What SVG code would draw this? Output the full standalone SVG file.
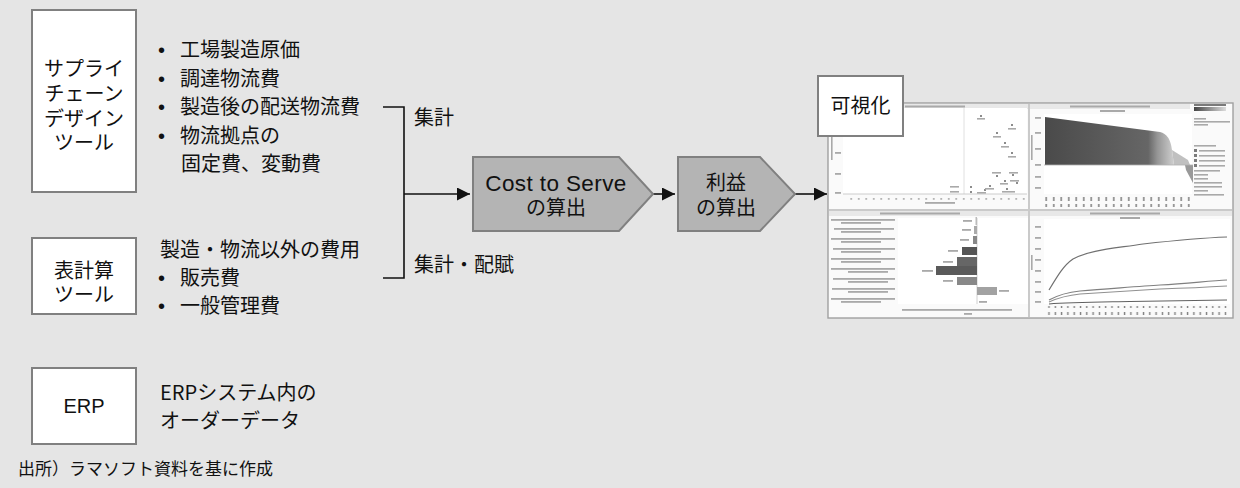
<svg xmlns="http://www.w3.org/2000/svg" width="1240" height="488" viewBox="0 0 1240 488">
<defs>
<style>
.jp{font-family:"Noto Sans CJK JP","Noto Sans",sans-serif;fill:#111;}
.lat{font-family:"Liberation Sans","Noto Sans CJK JP",sans-serif;fill:#111;}
.box{fill:#fff;stroke:#808080;stroke-width:2;}
.pent{fill:#b4b4b4;stroke:#808080;stroke-width:2;}
.conn{fill:none;stroke:#111;stroke-width:1.6;}
.t20{font-size:20px;}
.tiny{fill:#a9a9a9;}
.tinyd{fill:#7a7a7a;}
.grid{stroke:#d8d8d8;stroke-width:0.8;fill:none;}
</style>
<marker id="ah" viewBox="0 0 13 13" refX="13" refY="6.5" markerWidth="13" markerHeight="13" markerUnits="userSpaceOnUse" orient="auto">
<path d="M0,0 L13,6.5 L0,13 z" fill="#111"/>
</marker>
<pattern id="ticks" x="0" y="0" width="7.5" height="12" patternUnits="userSpaceOnUse">
<rect x="3" y="0" width="1.5" height="9" fill="#7f7f7f"/>
</pattern>
<pattern id="ticks2" x="0" y="0" width="6.3" height="12" patternUnits="userSpaceOnUse">
<rect x="2.5" y="0" width="1.4" height="8" fill="#7f7f7f"/>
</pattern>
<linearGradient id="area" x1="0" y1="0" x2="1" y2="0">
<stop offset="0" stop-color="#4a4a4a"/>
<stop offset="0.8" stop-color="#666"/>
<stop offset="0.87" stop-color="#959595"/>
<stop offset="1" stop-color="#cfcfcf"/>
</linearGradient>
<linearGradient id="leg" x1="0" y1="0" x2="1" y2="0">
<stop offset="0" stop-color="#444"/>
<stop offset="1" stop-color="#ddd"/>
</linearGradient>
</defs>

<rect x="0" y="0" width="1240" height="488" fill="#e5e5e5"/>

<g id="scd-tool">
<rect class="box" x="32" y="10" width="104" height="182"/>
<text class="jp t20" text-anchor="middle" x="84" y="76">サプライ<tspan x="84" dy="25">チェーン</tspan><tspan x="84" dy="25">デザイン</tspan><tspan x="84" dy="24">ツール</tspan></text>
</g>

<g id="scd-items">
<text class="lat t20" x="158" y="57">•<tspan x="158" dy="28.5">•</tspan><tspan x="158" dy="28.5">•</tspan><tspan x="158" dy="28.5">•</tspan></text>
<text class="jp t20" x="180" y="57">工場製造原価<tspan x="180" dy="28.5">調達物流費</tspan><tspan x="180" dy="28.5">製造後の配送物流費</tspan><tspan x="180" dy="28.5">物流拠点の</tspan><tspan x="181" dy="28.5">固定費、変動費</tspan></text>
</g>

<g id="spreadsheet-tool">
<rect class="box" x="32" y="238" width="104" height="76"/>
<text class="jp t20" text-anchor="middle" x="84" y="278">表計算<tspan x="84" dy="24">ツール</tspan></text>
</g>

<g id="spreadsheet-items">
<text class="jp t20" x="160" y="257">製造・物流以外の費用<tspan x="180" dy="28">販売費</tspan><tspan x="180" dy="28">一般管理費</tspan></text>
<text class="lat t20" x="158" y="285">•<tspan x="158" dy="28">•</tspan></text>
</g>

<g id="erp">
<rect class="box" x="32" y="368" width="104" height="76"/>
<text class="lat t20" text-anchor="middle" x="84" y="413">ERP</text>
</g>

<g id="erp-items">
<text class="jp t20" x="160" y="400">ERPシステム内の<tspan x="160" dy="28">オーダーデータ</tspan></text>
</g>

<g id="connectors">
<path class="conn" d="M383,107 H404 V278 H383"/>
<path class="conn" d="M404,194 H470" marker-end="url(#ah)"/>
<path class="conn" d="M653,194 H675" marker-end="url(#ah)"/>
<path class="conn" d="M795,194 H827" marker-end="url(#ah)"/>
<text class="jp t20" x="414" y="125">集計</text>
<text class="jp t20" x="414" y="272">集計・配賦</text>
</g>

<g id="cost-to-serve">
<polygon class="pent" points="473,157 619,157 653,194 619,231 473,231"/>
<text class="lat" font-size="22.5" letter-spacing="0.4" text-anchor="middle" x="556" y="191">Cost to Serve<tspan class="jp" font-size="20" letter-spacing="0" x="556" dy="24">の算出</tspan></text>
</g>

<g id="profit">
<polygon class="pent" points="678,157 760,157 795,194 760,231 678,231"/>
<text class="jp t20" text-anchor="middle" x="726" y="190">利益<tspan x="726" dy="25">の算出</tspan></text>
</g>

<g id="dashboard">
<rect x="828" y="103" width="405" height="215" fill="#fafafa" stroke="#a0a0a0" stroke-width="1.4"/>
<line x1="1029" y1="104" x2="1029" y2="317" stroke="#cacaca" stroke-width="2"/>
<line x1="829" y1="210" x2="1232" y2="210" stroke="#cacaca" stroke-width="2"/>
<rect x="829" y="104" width="199" height="5" fill="#e8e8e8"/>
<rect x="905" y="105.5" width="60" height="2" class="tiny"/>
<rect x="1030" y="104" width="160" height="5" fill="#e8e8e8"/>
<rect x="1070" y="105.5" width="80" height="2" class="tiny"/>
<rect x="1100" y="110" width="25" height="2" class="tiny"/>
<rect x="829" y="211" width="199" height="5" fill="#e8e8e8"/>
<rect x="880" y="212.5" width="80" height="2" class="tiny"/>
<rect x="1030" y="211" width="202" height="5" fill="#e8e8e8"/>
<rect x="1090" y="212.5" width="70" height="2" class="tiny"/>
<rect x="1120" y="217" width="20" height="2" class="tiny"/>

<rect x="843" y="108" width="184" height="86" fill="#fff"/>
<line x1="964" y1="108" x2="964" y2="194" class="grid"/>
<line x1="843" y1="194" x2="1027" y2="194" stroke="#c0c0c0" stroke-width="0.8"/>
<rect x="831" y="120" width="1.6" height="40" class="tiny"/>
<rect x="835" y="152" width="6" height="1.8" class="tiny"/>
<rect x="835" y="173" width="6" height="1.8" class="tiny"/>
<rect x="835" y="192" width="6" height="1.8" class="tiny"/>
<rect x="845" y="198" width="180" height="1.8" fill="url(#ticks)" opacity="0.7"/>
<rect x="925" y="202" width="30" height="1.8" class="tiny"/>
<g fill="#666">
<circle cx="981" cy="116" r="1"/><circle cx="1012" cy="125" r="1"/><circle cx="997" cy="133" r="1"/>
<circle cx="1005" cy="143" r="1"/><circle cx="1012" cy="153" r="1"/><circle cx="997" cy="176" r="1"/>
<circle cx="1013" cy="175" r="1"/><circle cx="1005" cy="181" r="1"/><circle cx="1017" cy="183" r="1"/>
<circle cx="1007" cy="189" r="1"/><circle cx="990" cy="186" r="1"/><circle cx="985" cy="190" r="1"/>
<circle cx="971" cy="187" r="1"/><circle cx="971" cy="192" r="1"/>
</g>
<g class="tiny">
<rect x="977" y="118" width="8" height="1.6"/><rect x="1008" y="128" width="8" height="1.6"/><rect x="993" y="136" width="8" height="1.6"/>
<rect x="1001" y="146" width="8" height="1.6"/><rect x="1008" y="156" width="8" height="1.6"/><rect x="992" y="172" width="9" height="1.6"/>
<rect x="1009" y="172" width="9" height="1.6"/><rect x="1000" y="183" width="8" height="1.6"/><rect x="1010" y="180" width="9" height="1.6"/>
<rect x="1002" y="191" width="13" height="1.6"/><rect x="985" y="188" width="9" height="1.6"/><rect x="977" y="192" width="9" height="1.6"/>
<rect x="950" y="186" width="9" height="1.6"/><rect x="950" y="191" width="9" height="1.6"/>
</g>

<rect x="1044" y="114" width="148" height="80" fill="#fff"/>
<path d="M1045,117 L1160,132 Q1170,134 1172,150 L1174,165 L1045,165 Z" fill="url(#area)"/>
<path d="M1172,150 L1188,160 L1190,165 L1174,165 Z" fill="#c0c0c0"/>
<path d="M1185,165 L1193,165 L1193,183 L1186,170 Z" fill="#999"/>
<line x1="1044" y1="165" x2="1193" y2="165" stroke="#b0b0b0" stroke-width="0.8"/>
<g class="tiny">
<rect x="1035" y="117" width="6" height="1.8"/><rect x="1035" y="132" width="6" height="1.8"/><rect x="1035" y="148" width="6" height="1.8"/>
<rect x="1035" y="164" width="6" height="1.8"/><rect x="1035" y="176" width="6" height="1.8"/><rect x="1035" y="187" width="6" height="1.8"/>
<rect x="1031" y="135" width="1.6" height="25"/>
</g>
<rect x="1044" y="197" width="148" height="10" fill="url(#ticks)"/>
<rect x="1194" y="104" width="32" height="2" class="tinyd"/>
<rect x="1194" y="107" width="32" height="4" fill="url(#leg)"/>
<rect x="1194" y="118" width="12" height="1.6" class="tiny"/>
<rect x="1194" y="121" width="36" height="1.6" class="tiny"/>
<rect x="1194" y="124" width="14" height="1.6" class="tiny"/>
<rect x="1194" y="145" width="22" height="1.6" class="tiny"/>
<g class="tinyd">
<rect x="1194" y="149" width="3" height="3"/><rect x="1194" y="154" width="3" height="3"/><rect x="1194" y="159" width="3" height="3"/><rect x="1194" y="164" width="3" height="3"/>
</g>
<g class="tiny">
<rect x="1199" y="150" width="26" height="1.6"/><rect x="1199" y="155" width="26" height="1.6"/><rect x="1199" y="160" width="26" height="1.6"/><rect x="1199" y="165" width="26" height="1.6"/>
<rect x="1194" y="170" width="26" height="1.6"/>
<rect x="1194" y="174" width="14" height="1.6"/><rect x="1194" y="178" width="14" height="1.6"/><rect x="1194" y="182" width="28" height="1.6"/>
<rect x="1194" y="186" width="28" height="1.6"/><rect x="1194" y="190" width="14" height="1.6"/><rect x="1194" y="194" width="30" height="1.6"/>
</g>

<rect x="898" y="218" width="130" height="86" fill="#fff"/>
<line x1="977" y1="218" x2="977" y2="304" stroke="#c4c4c4" stroke-width="0.8"/>
<g class="tiny">
<rect x="831" y="219" width="64" height="1.8"/><rect x="841" y="222" width="40" height="1.8"/>
<rect x="834" y="228" width="60" height="1.8"/><rect x="841" y="231" width="40" height="1.8"/>
<rect x="831" y="238" width="64" height="1.8"/><rect x="841" y="241" width="40" height="1.8"/>
<rect x="833" y="248" width="62" height="1.8"/><rect x="841" y="251" width="40" height="1.8"/>
<rect x="831" y="258" width="64" height="1.8"/><rect x="841" y="261" width="40" height="1.8"/>
<rect x="831" y="268" width="64" height="1.8"/><rect x="848" y="271" width="40" height="1.8"/>
<rect x="833" y="278" width="62" height="1.8"/><rect x="848" y="281" width="40" height="1.8"/>
<rect x="832" y="288" width="63" height="1.8"/><rect x="848" y="291" width="40" height="1.8"/>
<rect x="831" y="298" width="64" height="1.8"/><rect x="841" y="301" width="40" height="1.8"/>
<rect x="963" y="220" width="9" height="1.8"/><rect x="962" y="229" width="9" height="1.8"/><rect x="960" y="239" width="9" height="1.8"/>
<rect x="948" y="250" width="10" height="1.8"/><rect x="943" y="261" width="10" height="1.8"/><rect x="922" y="270" width="11" height="1.8"/>
<rect x="943" y="280" width="10" height="1.8"/><rect x="999" y="290" width="10" height="1.8"/><rect x="979" y="301" width="8" height="1.8"/>
<rect x="902" y="309" width="110" height="1.8"/><rect x="964" y="313" width="8" height="1.8"/>
</g>
<rect x="975.5" y="217" width="1.5" height="8" fill="#bbb"/>
<rect x="974" y="226" width="3" height="8" fill="#aaa"/>
<rect x="973" y="236" width="4" height="8" fill="#888"/>
<rect x="962" y="247" width="15" height="8" fill="#555"/>
<rect x="957" y="257" width="20" height="9" fill="#666"/>
<rect x="936" y="266" width="41" height="9" fill="#5a5a5a"/>
<rect x="957" y="277" width="20" height="8" fill="#888"/>
<rect x="977" y="287" width="20" height="8" fill="#a2a2a2"/>

<rect x="1044" y="219" width="186" height="85" fill="#fff"/>
<g class="tiny">
<rect x="1035" y="226" width="6" height="1.8"/><rect x="1035" y="237" width="6" height="1.8"/><rect x="1035" y="248" width="6" height="1.8"/>
<rect x="1035" y="259" width="6" height="1.8"/><rect x="1035" y="270" width="6" height="1.8"/><rect x="1035" y="281" width="6" height="1.8"/>
<rect x="1035" y="291" width="6" height="1.8"/><rect x="1035" y="301" width="6" height="1.8"/>
<rect x="1031" y="255" width="1.6" height="15"/>
</g>
<g fill="none" stroke-width="1.2">
<path d="M1049,290 C1058,275 1064,265 1073,259 C1090,250 1110,249 1143,244 C1170,241 1200,238 1227,237" stroke="#707070"/>
<path d="M1049,300 C1060,294 1070,292 1080,291 C1110,289 1140,286 1160,285 C1190,283 1210,281 1227,280" stroke="#808080"/>
<path d="M1049,302 C1060,297 1070,295 1080,294 C1110,292 1140,290 1160,289 C1190,288 1210,287 1227,286" stroke="#909090"/>
<path d="M1049,304 C1070,302 1100,302 1130,301.5 C1180,301 1210,300.5 1227,300" stroke="#606060"/>
</g>
<rect x="1045" y="306" width="185" height="9" fill="url(#ticks2)"/>
</g>

<g id="visualize">
<rect class="box" x="818" y="76" width="85" height="60"/>
<text class="jp t20" text-anchor="middle" x="860.5" y="113">可視化</text>
</g>

<text class="jp" font-size="17" x="18" y="475">出所）ラマソフト資料を基に作成</text>
</svg>
